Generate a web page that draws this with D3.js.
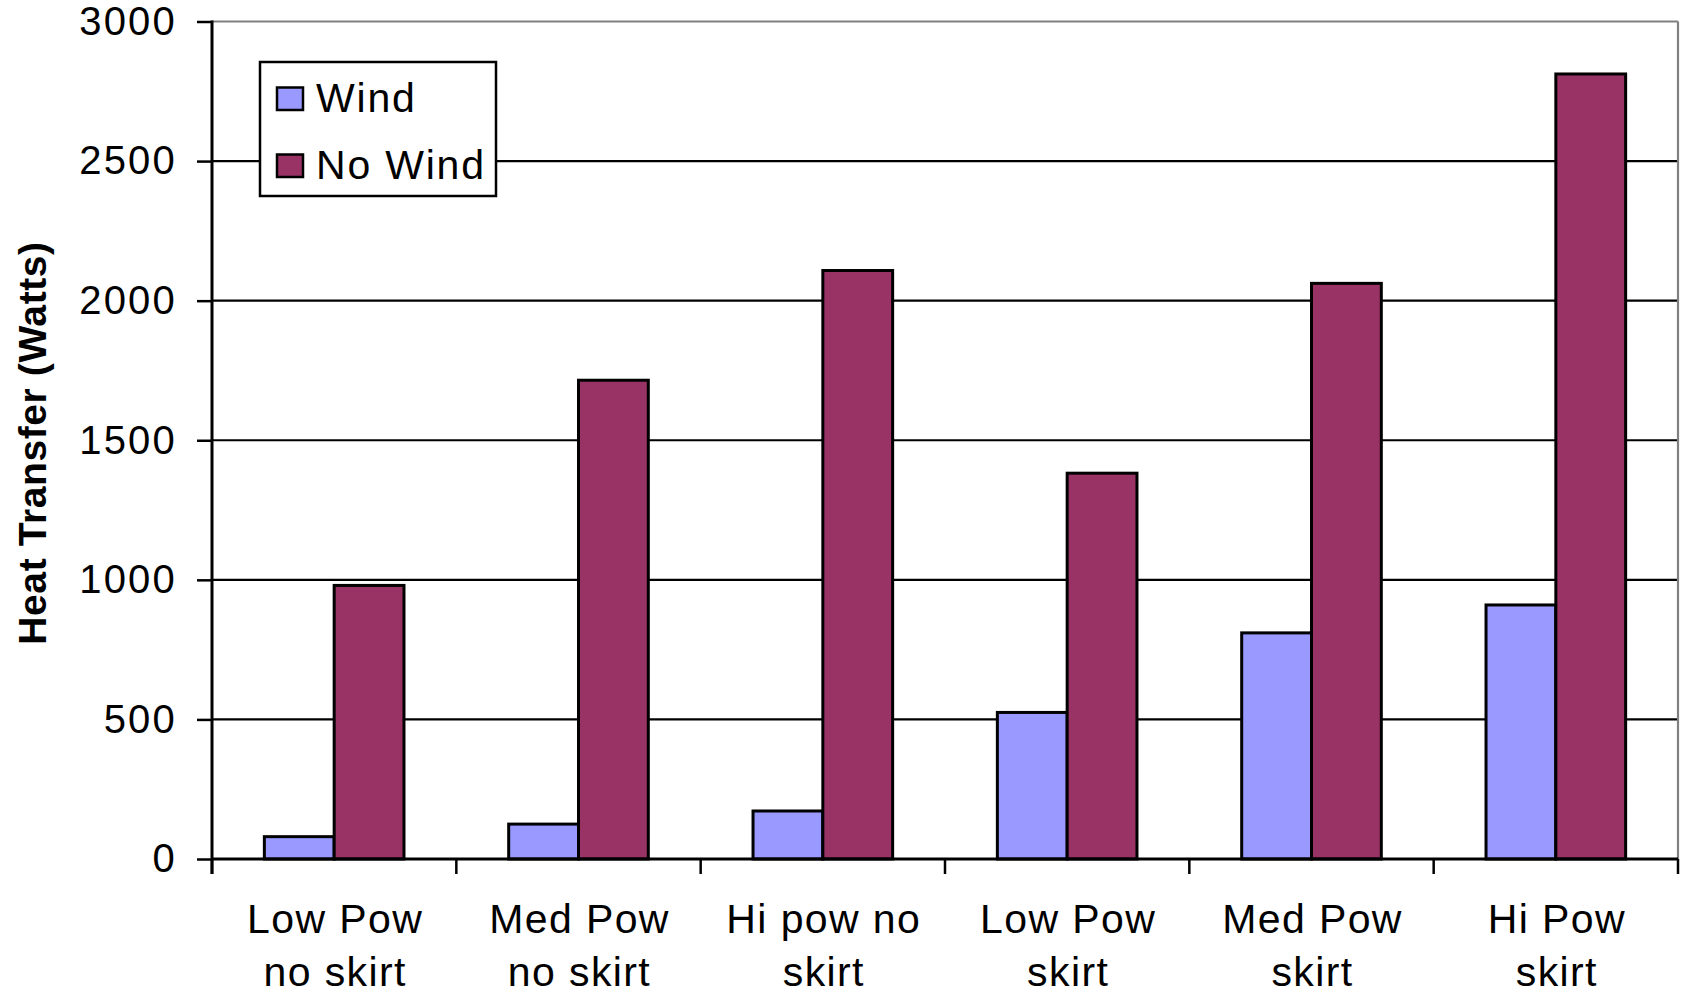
<!DOCTYPE html>
<html>
<head>
<meta charset="utf-8">
<script src="https://cdn.jsdelivr.net/npm/d3@7"></script>
<style>
  html, body { margin: 0; padding: 0; background: #fff; }
  svg { display: block; font-family: "Liberation Sans", Arial, sans-serif; }
</style>
</head>
<body>
<svg id="chart" width="1690" height="993"></svg>
<script>
// Heat transfer per configuration, with and without wind
const categories = [
  ["Low Pow", "no skirt"],
  ["Med Pow", "no skirt"],
  ["Hi pow no", "skirt"],
  ["Low Pow", "skirt"],
  ["Med Pow", "skirt"],
  ["Hi Pow", "skirt"]
];
const seriesNames = ["Wind", "No Wind"];
const windValues = [80, 125, 172, 525, 810, 910];
const noWindValues = [980, 1715, 2108, 1382, 2062, 2812];
const yTicks = [0, 500, 1000, 1500, 2000, 2500, 3000];
const seriesColors = ["#9999FF", "#993366"];

const svg = d3.select("#chart");
const plot = { left: 212, right: 1678, top: 21.5, bottom: 859 };

const x = d3.scaleBand()
  .domain(d3.range(categories.length))
  .range([plot.left, plot.right])
  .paddingInner(0).paddingOuter(0);

// bars take 2 of 3.5 bar-widths in each group (gap width 150%)
const xs = d3.scaleBand()
  .domain(seriesNames)
  .range([0, x.bandwidth()])
  .paddingInner(0)
  .paddingOuter(0.75);

const y = d3.scaleLinear().domain([0, 3000]).range([plot.bottom, plot.top]);

// horizontal gridlines
svg.append("g")
  .selectAll("line")
  .data(yTicks.filter(t => t > 0 && t < 3000))
  .join("line")
  .attr("x1", plot.left).attr("x2", plot.right)
  .attr("y1", d => y(d)).attr("y2", d => y(d))
  .attr("stroke", "#000").attr("stroke-width", 2.2);

// plot area border (top / right)
svg.append("line")
  .attr("x1", plot.left).attr("x2", plot.right)
  .attr("y1", y(3000)).attr("y2", y(3000))
  .attr("stroke", "#808080").attr("stroke-width", 2.2);
svg.append("line")
  .attr("x1", plot.right).attr("x2", plot.right)
  .attr("y1", y(3000)).attr("y2", y(0))
  .attr("stroke", "#808080").attr("stroke-width", 2.2);

// bars
const rows = categories.map((c, i) => ({ i, values: [windValues[i], noWindValues[i]] }));
const groups = svg.append("g").selectAll("g")
  .data(rows).join("g")
  .attr("transform", d => `translate(${x(d.i)},0)`);

groups.selectAll("rect")
  .data(d => d.values.map((v, k) => ({ name: seriesNames[k], v, k })))
  .join("rect")
  .attr("x", d => xs(d.name))
  .attr("width", xs.bandwidth())
  .attr("y", d => y(d.v))
  .attr("height", d => y(0) - y(d.v))
  .attr("fill", d => seriesColors[d.k])
  .attr("stroke", "#000")
  .attr("stroke-width", 3);

// y axis
const yAxis = d3.axisLeft(y).tickValues(yTicks).tickSize(15).tickPadding(20)
  .tickFormat(d3.format("d"));
const yg = svg.append("g").attr("transform", `translate(${plot.left},0)`).call(yAxis);
yg.select(".domain").remove();
yg.selectAll(".tick line").attr("stroke", "#000").attr("stroke-width", 2.5);
yg.selectAll(".tick text")
  .attr("fill", "#000")
  .style("font-size", "40px")
  .style("letter-spacing", "2.2px")
  .style("font-family", "'Liberation Sans', Arial, sans-serif");
svg.append("line")
  .attr("x1", plot.left).attr("x2", plot.left)
  .attr("y1", plot.top - 1).attr("y2", plot.bottom + 15)
  .attr("stroke", "#000").attr("stroke-width", 3);

// x axis line and category boundary ticks
svg.append("line")
  .attr("x1", plot.left).attr("x2", plot.right)
  .attr("y1", plot.bottom).attr("y2", plot.bottom)
  .attr("stroke", "#000").attr("stroke-width", 3);
svg.append("g").selectAll("line")
  .data(d3.range(categories.length + 1))
  .join("line")
  .attr("x1", d => plot.left + d * x.bandwidth())
  .attr("x2", d => plot.left + d * x.bandwidth())
  .attr("y1", plot.bottom).attr("y2", plot.bottom + 15)
  .attr("stroke", "#000").attr("stroke-width", 2.5);

// category labels (two lines)
const labels = svg.append("g").selectAll("text")
  .data(categories.map((c, i) => ({ c, i })))
  .join("text")
  .attr("text-anchor", "middle")
  .attr("fill", "#000")
  .style("font-size", "41px")
  .style("letter-spacing", "1.4px");
labels.each(function (d) {
  const t = d3.select(this);
  d.c.forEach((line, j) => {
    t.append("tspan")
      .attr("x", x(d.i) + x.bandwidth() / 2 + 1)
      .attr("y", 933 + j * 53)
      .text(line);
  });
});

// y axis title
svg.append("text")
  .attr("transform", "translate(46,443) rotate(-90)")
  .attr("text-anchor", "middle")
  .attr("fill", "#000")
  .style("font-size", "39px")
  .style("letter-spacing", "0.6px")
  .style("font-weight", "bold")
  .text("Heat Transfer (Watts)");

// legend
const legend = svg.append("g");
legend.append("rect")
  .attr("x", 260).attr("y", 62).attr("width", 236).attr("height", 134)
  .attr("fill", "#fff").attr("stroke", "#000").attr("stroke-width", 2.5);
const items = legend.selectAll("g.item")
  .data(seriesNames).join("g").attr("class", "item")
  .attr("transform", (d, k) => `translate(0,${k * 67})`);
items.append("rect")
  .attr("x", 277).attr("y", 87.5).attr("width", 26).attr("height", 22.5)
  .attr("fill", (d, k) => seriesColors[k])
  .attr("stroke", "#000").attr("stroke-width", 2.5);
items.append("text")
  .attr("x", 316).attr("y", 112)
  .attr("fill", "#000")
  .style("font-size", "41px")
  .style("letter-spacing", "1.8px")
  .text(d => d);
</script>
</body>
</html>
